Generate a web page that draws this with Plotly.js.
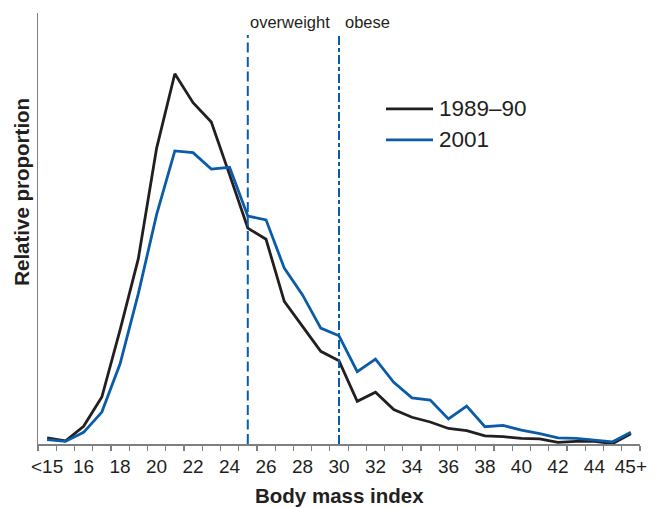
<!DOCTYPE html>
<html>
<head>
<meta charset="utf-8">
<script src="https://cdn.plot.ly/plotly-3.0.1.min.js"></script>
<style>html,body{margin:0;padding:0;background:#fff;}#chart{width:655px;height:508px;}</style>
</head>
<body>
<div id="chart"></div>
<script>
// BMI categories (14 = "<15", 46 = "45+")
var bmi = [14,15,16,17,18,19,20,21,22,23,24,25,26,27,28,29,30,31,32,33,34,35,36,37,38,39,40,41,42,43,44,45,46];
var series1989 = [0.14,0.07,0.41,1.09,2.65,4.30,6.86,8.59,7.92,7.47,6.25,5.01,4.75,3.31,2.73,2.15,1.93,0.99,1.20,0.80,0.62,0.51,0.36,0.31,0.19,0.17,0.13,0.12,0.04,0.06,0.06,0.01,0.24];
var series2001 = [0.10,0.06,0.27,0.74,1.86,3.49,5.32,6.80,6.76,6.38,6.42,5.29,5.20,4.08,3.46,2.69,2.51,1.68,1.97,1.43,1.07,1.02,0.58,0.88,0.40,0.43,0.32,0.24,0.14,0.13,0.09,0.05,0.27];
var tickVals = [14,16,18,20,22,24,26,28,30,32,34,36,38,40,42,44,46];
var tickText = ["<15","16","18","20","22","24","26","28","30","32","34","36","38","40","42","44","45+"];
var cutoffs = [25, 30];
var cutoffLabels = ["overweight", "obese"];
var seriesNames = ["1989\u201390", "2001"];

var BLACK = '#231f20', BLUE = '#0b5ca8', GREY = '#7f7f7f';
var FONT = '"Liberation Sans", Arial, Helvetica, sans-serif';

var boundaryVals = [], blankText = [];
for (var i = 0; i < bmi.length + 1; i++) { boundaryVals.push(bmi[0] - 0.5 + i); blankText.push(''); }

var traces = [
  {x: bmi, y: series1989, type: 'scatter', mode: 'lines', name: seriesNames[0],
   xaxis: 'x', line: {color: BLACK, width: 2.8}, showlegend: false},
  {x: bmi, y: series2001, type: 'scatter', mode: 'lines', name: seriesNames[1],
   xaxis: 'x2', line: {color: BLUE, width: 2.8}, showlegend: false}
];

var shapes = [
  {type: 'line', xref: 'x', yref: 'paper', x0: cutoffs[0], x1: cutoffs[0], y0: 0, y1: 0.949,
   line: {color: BLUE, width: 2, dash: '10px,4.5px'}},
  {type: 'line', xref: 'x', yref: 'paper', x0: cutoffs[1], x1: cutoffs[1], y0: 0, y1: 0.949,
   line: {color: BLUE, width: 2, dash: '9px,3px,4px,3px'}},
  // legend keys
  {type: 'line', xref: 'paper', yref: 'paper', x0: (386-38)/602, x1: (433-38)/602,
   y0: (444.5-109)/431.5, y1: (444.5-109)/431.5, line: {color: BLACK, width: 2.8}},
  {type: 'line', xref: 'paper', yref: 'paper', x0: (386-38)/602, x1: (433-38)/602,
   y0: (444.5-140)/431.5, y1: (444.5-140)/431.5, line: {color: BLUE, width: 2.8}}
];

var annotations = [
  {xref: 'x', yref: 'paper', x: cutoffs[0], y: (444.5-22)/431.5, text: cutoffLabels[0],
   xanchor: 'left', yanchor: 'middle', xshift: 0, showarrow: false,
   font: {family: FONT, size: 16.5, color: BLACK}},
  {xref: 'x', yref: 'paper', x: cutoffs[1], y: (444.5-22)/431.5, text: cutoffLabels[1],
   xanchor: 'left', yanchor: 'middle', xshift: 4, showarrow: false,
   font: {family: FONT, size: 16.5, color: BLACK}},
  {xref: 'paper', yref: 'paper', x: (437-38)/602, y: (444.5-109)/431.5, text: seriesNames[0],
   xanchor: 'left', yanchor: 'middle', showarrow: false,
   font: {family: FONT, size: 22.5, color: BLACK}},
  {xref: 'paper', yref: 'paper', x: (437-38)/602, y: (444.5-140)/431.5, text: seriesNames[1],
   xanchor: 'left', yanchor: 'middle', showarrow: false,
   font: {family: FONT, size: 22.5, color: BLACK}},
  {xref: 'paper', yref: 'paper', x: (339-38)/602, y: (444.5-496)/431.5, text: '<b>Body mass index</b>',
   xanchor: 'center', yanchor: 'middle', showarrow: false,
   font: {family: FONT, size: 20.5, color: BLACK}},
  {xref: 'paper', yref: 'paper', x: (22-38)/602, y: (444.5-192)/431.5, text: '<b>Relative proportion</b>',
   xanchor: 'center', yanchor: 'middle', textangle: -90, showarrow: false,
   font: {family: FONT, size: 20.5, color: BLACK}}
];

var layout = {
  width: 655, height: 508,
  margin: {l: 38, r: 15, t: 13, b: 63.5, pad: 0},
  paper_bgcolor: '#fff', plot_bgcolor: '#fff',
  font: {family: FONT, color: BLACK},
  showlegend: false,
  xaxis: {
    range: [13.5, 46.5], showgrid: false, zeroline: false,
    showline: true, linecolor: GREY, linewidth: 1.5,
    tickmode: 'array', tickvals: boundaryVals, ticktext: blankText,
    ticks: 'outside', ticklen: 5, tickwidth: 1.2, tickcolor: GREY
  },
  xaxis2: {
    overlaying: 'x', matches: 'x', side: 'bottom', anchor: 'y',
    range: [13.5, 46.5], showgrid: false, zeroline: false, showline: false,
    tickmode: 'array', tickvals: tickVals, ticktext: tickText,
    ticks: 'outside', ticklen: 5, tickcolor: 'rgba(0,0,0,0)',
    tickfont: {family: FONT, size: 19, color: BLACK}
  },
  yaxis: {
    range: [0, 10], showgrid: false, zeroline: false,
    showline: true, linecolor: GREY, linewidth: 1.5,
    showticklabels: false, ticks: ''
  },
  shapes: shapes,
  annotations: annotations
};

Plotly.newPlot('chart', traces, layout, {displayModeBar: false, staticPlot: true});
</script>
</body>
</html>
